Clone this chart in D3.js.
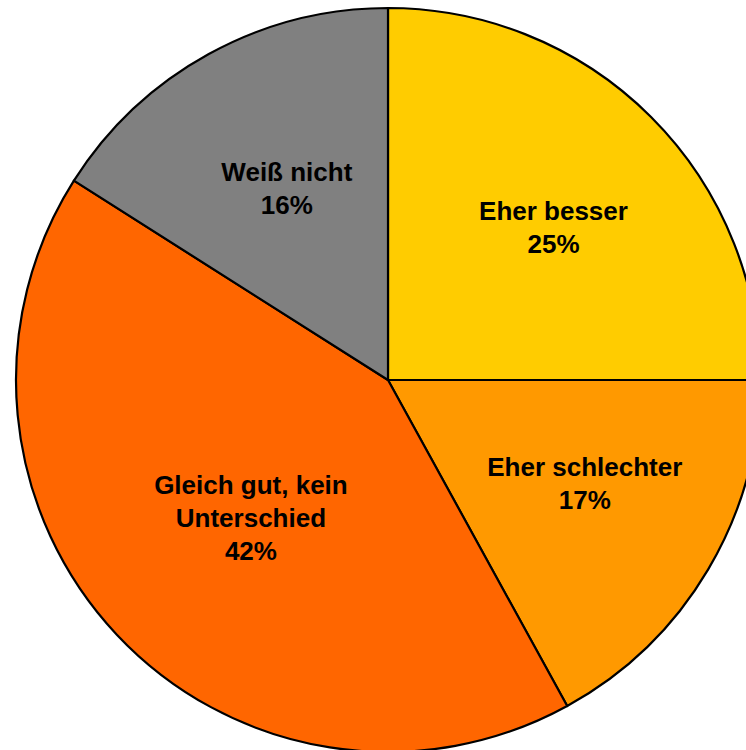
<!DOCTYPE html>
<html>
<head>
<meta charset="utf-8">
<script src="https://cdn.jsdelivr.net/npm/d3@7"></script>
<style>
  body { margin: 0; background: #fff; }
  svg { display: block; }
</style>
</head>
<body>
<div id="chart"></div>
<script>
// Antwortkategorien und Anteile (%)
var categories = ['Eher besser', 'Eher schlechter', 'Gleich gut, kein Unterschied', 'Weiß nicht'];
var values = [25, 17, 42, 16];
var labelLines = [['Eher besser'], ['Eher schlechter'], ['Gleich gut, kein', 'Unterschied'], ['Weiß nicht']];
var colors = ['#FFCC00', '#FF9900', '#FF6600', '#808080'];

var width = 746, height = 750;
var cx = 388, cy = 380, r = 372;
var fontSize = 26, lineH = 33;
// kleine Verschiebungen der Beschriftungen wie im Original
var nudge = [[17, -4], [16, -4], [16, -6], [0, -8]];

var data = categories.map(function (c, i) {
  return { name: c, value: values[i], lines: labelLines[i], color: colors[i] };
});

var svg = d3.select('#chart')
  .append('svg')
  .attr('width', width)
  .attr('height', height);

var g = svg.append('g')
  .attr('transform', 'translate(' + cx + ',' + cy + ')');

var pie = d3.pie()
  .sort(null)
  .value(function (d) { return d.value; });

var arc = d3.arc()
  .innerRadius(0)
  .outerRadius(r);

// centroid() nimmt den Mittelwert der Radien -> 210
var labelArc = d3.arc()
  .innerRadius(210)
  .outerRadius(210);

var arcs = pie(data);

g.selectAll('path')
  .data(arcs)
  .enter()
  .append('path')
  .attr('d', arc)
  .attr('fill', function (d) { return d.data.color; })
  .attr('stroke', '#000')
  .attr('stroke-width', 2.2)
  .attr('stroke-linejoin', 'round');

var capH = fontSize * 0.716;

g.selectAll('text.lbl')
  .data(arcs)
  .enter()
  .append('text')
  .attr('class', 'lbl')
  .attr('text-anchor', 'middle')
  .attr('font-family', 'Arial, "Liberation Sans", sans-serif')
  .attr('font-weight', 'bold')
  .attr('font-size', fontSize)
  .attr('fill', '#000')
  .each(function (d, i) {
    var c = labelArc.centroid(d);
    var x = c[0] + nudge[i][0];
    var lines = d.data.lines.concat([d.data.value + '%']);
    var n = lines.length;
    var y0 = c[1] + nudge[i][1] - (lineH * (n - 1) + capH) / 2 + capH;
    var t = d3.select(this);
    lines.forEach(function (s, k) {
      t.append('tspan')
        .attr('x', x)
        .attr('y', y0 + k * lineH)
        .text(s);
    });
  });
</script>
</body>
</html>
